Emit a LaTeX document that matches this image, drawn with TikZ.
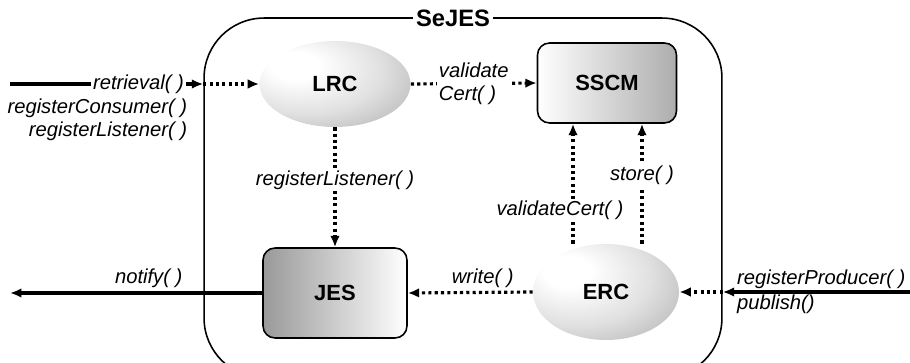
\documentclass[tikz,border=0pt]{standalone}
\usepackage{fontspec}
\setmainfont{Liberation Sans}
\usetikzlibrary{shapes.geometric,arrows.meta}

% soft grey ball, lit from the upper left
\pgfdeclareradialshading{glassball}{\pgfpoint{-15bp}{12bp}}{color(0bp)=(white); color(8bp)=(white); color(25bp)=(black!12); color(40bp)=(black!28); color(56bp)=(black!46); color(70bp)=(black!58)}

\begin{document}
\begin{tikzpicture}[x=0.02cm, y=-0.02cm,
  every node/.style={font=\fontsize{11.5}{13}\selectfont\itshape},
  comp/.style={font=\fontsize{12.5}{14}\selectfont\bfseries, inner sep=0pt},
  ball/.style={comp, ellipse, shading=glassball},
  card/.style={comp, draw, line width=0.9pt, rounded corners=0.24cm, shading angle=-45},
  call/.style={line width=1.8pt, dash pattern=on 1.8pt off 1.8pt, -{Latex[length=6.5pt,width=5.5pt]}},
  api/.style={line width=1.8pt, -{Latex[length=6.5pt,width=5.5pt]}},
  tag/.style={fill=white, inner sep=1pt}]

\useasboundingbox (0,0) rectangle (910,362);
\clip (0,0) rectangle (910,362);

% container
\node[draw, line width=0.9pt, rounded corners=1.2cm, minimum width=10.36cm, minimum height=7.2cm] (sejes) at (463,198) {};
\node[comp, fill=white, inner sep=2pt, font=\fontsize{13.5}{15}\selectfont\bfseries] (title) at (453,18) {SeJES};

% components
\node[ball, minimum width=3.02cm, minimum height=1.72cm] (lrc) at (335,84) {LRC};
\node[card, minimum width=2.78cm, minimum height=1.6cm, left color=white, right color=black!32] (sscm) at (607,83) {SSCM};
\node[card, minimum width=2.88cm, minimum height=1.8cm, left color=black!40, right color=white] (jes) at (335,293) {JES};
\node[ball, minimum width=2.92cm, minimum height=1.92cm] (erc) at (606,292) {ERC};

\coordinate (inL) at (10,84);
\coordinate (inR) at (910,292);
\coordinate (outL) at (10,293);

% calls from outside
\draw[api] (inL) -- node[tag, pos=0.665] (retr) {retrieval( )} (sejes.west |- lrc.west);
\node[anchor=north east, align=right, inner sep=1pt] (consumer) at ([xshift=0.04cm]retr.south east) {registerConsumer( )\\registerListener( )};
\draw[call] (sejes.west |- lrc.west) -- (lrc.west);

\draw[api] (inR) -- node[pos=1, anchor=south west, xshift=0.22cm, inner sep=1pt] {registerProducer( )}
                    node[pos=1, anchor=north west, xshift=0.22cm, inner sep=1pt] {publish()} (sejes.east |- erc.east);
\draw[call] (sejes.east |- erc.east) -- (erc.east);

\draw[api] (jes.west) -- node[above, pos=0.45, inner sep=2pt] {notify( )} (outL);

% calls inside
\draw[call] (lrc.east) -- node[tag, align=left] {validate\\Cert( )} (sscm.west);
\draw[call] (lrc.south) -- node[tag, pos=0.44] {registerListener( )} (jes.north);
\draw[call] (erc.west) -- node[above, pos=0.4, inner sep=2pt] {write( )} (jes.east);

\draw[call] ([xshift=-0.66cm]erc.north) -- node[tag, pos=0.28, xshift=-0.26cm] {validateCert( )} ([xshift=-0.66cm]erc.north |- sscm.south);
\draw[call] ([xshift=0.72cm]erc.north) -- node[tag, pos=0.57] {store( )} ([xshift=0.72cm]erc.north |- sscm.south);

\end{tikzpicture}
\end{document}
